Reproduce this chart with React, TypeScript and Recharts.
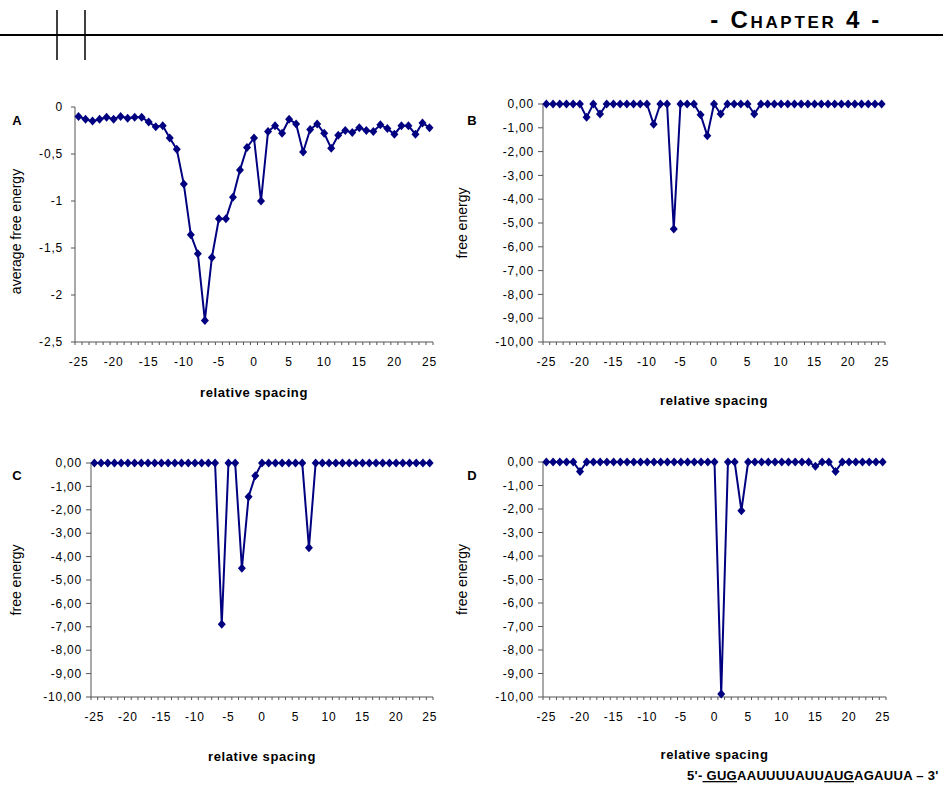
import React from "react";
import { LineChart, Line, XAxis, YAxis } from "recharts";

// relative spacing (categories) shared by all four panels
const spacing = [
  -25, -24, -23, -22, -21, -20, -19, -18, -17, -16, -15, -14, -13, -12, -11, -10, -9,
  -8, -7, -6, -5, -4, -3, -2, -1, 0, 1, 2, 3, 4, 5, 6, 7, 8, 9, 10, 11, 12, 13, 14, 15,
  16, 17, 18, 19, 20, 21, 22, 23, 24, 25,
];

// panel A: average free energy
const energyA = [
  -0.1, -0.13, -0.15, -0.13, -0.11, -0.13, -0.1, -0.12, -0.11, -0.11, -0.16, -0.21,
  -0.2, -0.33, -0.45, -0.82, -1.36, -1.56, -2.27, -1.6, -1.19, -1.19, -0.96, -0.67,
  -0.43, -0.33, -1.0, -0.26, -0.2, -0.28, -0.13, -0.18, -0.48, -0.24, -0.18, -0.28,
  -0.44, -0.3, -0.25, -0.27, -0.22, -0.25, -0.26, -0.19, -0.23, -0.29, -0.2, -0.2,
  -0.29, -0.17, -0.22,
];

// panel B
const energyB = [
  0, 0, 0, 0, 0, 0, -0.56, 0, -0.42, 0, 0, 0, 0, 0, 0, 0, -0.85, 0, 0, -5.25, 0, 0, 0,
  -0.45, -1.33, 0, -0.42, 0, 0, 0, 0, -0.42, 0, 0, 0, 0, 0, 0, 0, 0, 0, 0, 0, 0, 0, 0,
  0, 0, 0, 0, 0,
];

// panel C
const energyC = [
  0, 0, 0, 0, 0, 0, 0, 0, 0, 0, 0, 0, 0, 0, 0, 0, 0, 0, 0, -6.89, 0, 0, -4.5, -1.44,
  -0.54, 0, 0, 0, 0, 0, 0, 0, -3.62, 0, 0, 0, 0, 0, 0, 0, 0, 0, 0, 0, 0, 0, 0, 0, 0, 0,
  0,
];

// panel D
const energyD = [
  0, 0, 0, 0, 0, -0.4, 0, 0, 0, 0, 0, 0, 0, 0, 0, 0, 0, 0, 0, 0, 0, 0, 0, 0, 0, 0,
  -9.87, 0, 0, -2.07, 0, 0, 0, 0, 0, 0, 0, 0, 0, 0, -0.18, 0, 0, -0.4, 0, 0, 0, 0, 0, 0,
  0,
];

const avgTicks = [0, -0.5, -1, -1.5, -2, -2.5];
const freeTicks = [0, -1, -2, -3, -4, -5, -6, -7, -8, -9, -10];

const NAVY = "#000080";
const AXIS = "#555";
const FONT = "'Liberation Sans', Arial, sans-serif";
const X_GAP = 15;

const Diamond = (props: any) => {
  const { cx, cy, index } = props;
  if (cx == null || cy == null) return <g key={index} />;
  return (
    <path
      key={index}
      d={`M${cx},${cy - 4.5}L${cx + 4},${cy}L${cx},${cy + 4.5}L${cx - 4},${cy}Z`}
      fill={NAVY}
    />
  );
};

// tick marks sit between categories, labels every 5
const SpacingTick = (props: any) => {
  const { x, y, payload, step } = props;
  const v = payload.value;
  const axisY = y - X_GAP;
  return (
    <g>
      <line x1={x - step / 2} x2={x - step / 2} y1={axisY} y2={axisY + 3} stroke={AXIS} />
      {v === 25 && (
        <line x1={x + step / 2} x2={x + step / 2} y1={axisY} y2={axisY + 3} stroke={AXIS} />
      )}
      {v % 5 === 0 && (
        <text
          x={x}
          y={y}
          dy="0.71em"
          textAnchor="middle"
          fill="#000"
          fontSize={12}
          fontFamily={FONT}
          style={{ letterSpacing: 0.8 }}
        >
          {v}
        </text>
      )}
    </g>
  );
};

type Panel = {
  values: number[];
  box: { left: number; top: number; width: number };
  plot: { l: number; t: number; r: number; b: number };
  domain: [number, number];
  ticks: number[];
  fmt: (v: number) => string;
  yLabel: string;
  yLabelOffset: number;
  yLabelDy: number;
  yTickSize: number;
  yTickMargin: number;
  xLabelOffset: number;
};

function EnergyPanel(p: Panel) {
  const data = spacing.map((s, i) => ({ spacing: s, energy: p.values[i] }));
  const yWidth = p.plot.l - p.box.left - 5;
  const margin = {
    top: p.plot.t - p.box.top,
    left: 5,
    right: p.box.left + p.box.width - p.plot.r,
    bottom: 2,
  };
  const height = p.plot.b + 70 + 2 - p.box.top;
  const step = (p.plot.r - p.plot.l) / spacing.length;
  return (
    <div style={{ position: "absolute", left: p.box.left, top: p.box.top }}>
      <LineChart width={p.box.width} height={height} data={data} margin={margin}>
        <XAxis
          dataKey="spacing"
          type="number"
          domain={[-25.5, 25.5]}
          ticks={spacing}
          interval={0}
          height={70}
          tickLine={false}
          tickSize={0}
          tickMargin={X_GAP}
          axisLine={{ stroke: AXIS }}
          tick={(t: any) => <SpacingTick {...t} step={step} />}
          label={{
            value: "relative spacing",
            position: "insideBottom",
            offset: p.xLabelOffset,
            fill: "#000",
            fontSize: 13,
            fontWeight: "bold",
            fontFamily: FONT,
            style: { letterSpacing: 0.6 },
          }}
        />
        <YAxis
          type="number"
          domain={p.domain}
          ticks={p.ticks}
          interval={0}
          width={yWidth}
          tickSize={p.yTickSize}
          tickMargin={p.yTickMargin}
          tickLine={{ stroke: AXIS }}
          axisLine={{ stroke: AXIS }}
          tickFormatter={p.fmt}
          tick={{ fill: "#000", fontSize: 12, fontFamily: FONT, style: { letterSpacing: 0.8 } }}
          label={{
            value: p.yLabel,
            angle: -90,
            position: "insideLeft",
            offset: p.yLabelOffset,
            dy: p.yLabelDy,
            fill: "#000",
            fontSize: 14,
            fontFamily: FONT,
            style: { textAnchor: "middle" },
          }}
        />
        <Line
          type="linear"
          dataKey="energy"
          stroke={NAVY}
          strokeWidth={2}
          dot={Diamond}
          activeDot={false}
          isAnimationActive={false}
        />
      </LineChart>
    </div>
  );
}

const avgFmt = (v: number) => String(v).replace(".", ",");
const freeFmt = (v: number) => v.toFixed(2).replace(".", ",");

export default function App() {
  return (
    <div
      style={{
        position: "absolute",
        left: 0,
        top: 0,
        width: 943,
        height: 792,
        background: "#fff",
        fontFamily: FONT,
      }}
    >
      <EnergyPanel
        values={energyA}
        box={{ left: 0, top: 90, width: 450 }}
        plot={{ l: 75, t: 107, r: 433, b: 342 }}
        domain={[-2.5, 0]}
        ticks={avgTicks}
        fmt={avgFmt}
        yLabel="average free energy"
        yLabelOffset={11}
        yLabelDy={7}
        yTickSize={4}
        yTickMargin={8}
        xLabelOffset={15}
      />
      <EnergyPanel
        values={energyB}
        box={{ left: 455, top: 90, width: 450 }}
        plot={{ l: 543, t: 104, r: 885, b: 342 }}
        domain={[-10, 0]}
        ticks={freeTicks}
        fmt={freeFmt}
        yLabel="free energy"
        yLabelOffset={2}
        yLabelDy={0}
        yTickSize={5}
        yTickMargin={4}
        xLabelOffset={7}
      />
      <EnergyPanel
        values={energyC}
        box={{ left: 0, top: 445, width: 450 }}
        plot={{ l: 91, t: 463, r: 433, b: 697 }}
        domain={[-10, 0]}
        ticks={freeTicks}
        fmt={freeFmt}
        yLabel="free energy"
        yLabelOffset={11}
        yLabelDy={0}
        yTickSize={5}
        yTickMargin={4}
        xLabelOffset={6}
      />
      <EnergyPanel
        values={energyD}
        box={{ left: 455, top: 445, width: 450 }}
        plot={{ l: 543, t: 462, r: 886, b: 697 }}
        domain={[-10, 0]}
        ticks={freeTicks}
        fmt={freeFmt}
        yLabel="free energy"
        yLabelOffset={2}
        yLabelDy={0}
        yTickSize={5}
        yTickMargin={4}
        xLabelOffset={8}
      />
      <svg
        width={943}
        height={792}
        style={{ position: "absolute", left: 0, top: 0, pointerEvents: "none" }}
      >
        <line x1={0} x2={943} y1={35} y2={35} stroke="#000" strokeWidth={2} />
        <line x1={57} x2={57} y1={10} y2={60} stroke="#000" strokeWidth={1.5} />
        <line x1={85} x2={85} y1={10} y2={60} stroke="#000" strokeWidth={1.5} />
        <text
          x={882}
          y={28}
          textAnchor="end"
          fontSize={24}
          fontWeight="bold"
          fontFamily={FONT}
          style={{ fontVariant: "small-caps", letterSpacing: 2.7 }}
        >
          - Chapter 4 -
        </text>
        <g fontSize={13} fontWeight="bold" fontFamily={FONT}>
          <text x={17} y={125} textAnchor="middle">A</text>
          <text x={472} y={125} textAnchor="middle">B</text>
          <text x={17} y={480} textAnchor="middle">C</text>
          <text x={472} y={480} textAnchor="middle">D</text>
        </g>
        <text
          x={687}
          y={780}
          fontSize={13}
          fontWeight="bold"
          fontFamily={FONT}
          style={{ whiteSpace: "pre", letterSpacing: 0.3 }}
        >
          <tspan>5'-</tspan>
          <tspan style={{ textDecoration: "underline" }}> GUG</tspan>
          <tspan>AAUUUUAUU</tspan>
          <tspan style={{ textDecoration: "underline" }}>AUG</tspan>
          <tspan>AGAUUA – 3'</tspan>
        </text>
      </svg>
    </div>
  );
}
